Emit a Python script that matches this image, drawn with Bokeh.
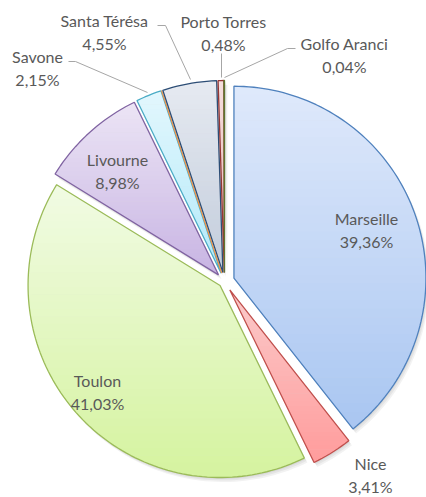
import numpy as np
from bokeh.plotting import figure
from bokeh.models import Range1d, ColumnDataSource
from bokeh.embed import file_html
from bokeh.resources import INLINE
from bokeh.core.properties import value

# ---------------- data ----------------
ports = ["Marseille", "Nice", "Toulon", "Livourne", "Savone", "", "Santa Térésa", "Porto Torres", "Golfo Aranci"]
shares = [39.36, 3.41, 41.03, 8.98, 2.15, 0.0, 4.55, 0.48, 0.04]

# ---------------- styles / layout ----------------
edge_colors = ["#4f81bd", "#c0504d", "#9bbb59", "#8064a2", "#4bacc6", "#f79646", "#2c4d75", "#953735", "#5f7530"]
fill_top = ["#dfe9fb", "#fbcaca", "#f1fbe4", "#ece5f5", "#e3f7fd", "#fde3cc", "#e6eaf1", "#f5dede", "#e6eed6"]
fill_bot = ["#a9c6f1", "#ff9c9c", "#d5f39f", "#c8b4e3", "#b2e9f9", "#fbc79a", "#c2ccdb", "#e6b3b2", "#cddcae"]
explode = [10, 10, 6, 9, 9, 9, 9, 9, 9]
CX, CY, R = 224.0, 281.0, 192.0

label_name_xy = [(366, 218), (370, 463), (97, 380), (117, 159), (37, 56), None, (104, 20), (223, 21), (344, 43)]
label_gap = 23
leaders = {
    4: ([68, 75, 147], [61, 61, 92]),
    6: ([157, 165, 190], [25, 25, 79]),
    7: ([221, 221], [53, 77]),
    8: ([295, 287, 224], [48, 48, 77]),
}

def hex2rgb(h):
    h = h.lstrip("#")
    return np.array([int(h[i:i + 2], 16) for i in (0, 2, 4)], dtype=float)

def rgb2hex(c):
    return "#%02x%02x%02x" % tuple(int(round(v)) for v in c)

def clip_half(poly, y0, keep_above):
    out = []
    n = len(poly)
    for i in range(n):
        a = poly[i]
        b = poly[(i + 1) % n]
        ina = a[1] >= y0 if keep_above else a[1] <= y0
        inb = b[1] >= y0 if keep_above else b[1] <= y0
        if ina:
            out.append(a)
        if ina != inb:
            t = (y0 - a[1]) / (b[1] - a[1])
            out.append((a[0] + t * (b[0] - a[0]), y0))
    return out

p = figure(width=426, height=497, x_range=Range1d(0, 426), y_range=Range1d(497, 0),
           output_backend="svg", toolbar_location=None, min_border=0)
p.axis.visible = False
p.grid.visible = False
p.outline_line_color = None
p.background_fill_color = "white"
p.border_fill_color = "white"

total = sum(shares)
cum = np.cumsum([0] + shares) / total * 360.0

polys = []
for i, s in enumerate(shares):
    a0, a1 = np.radians(cum[i]), np.radians(cum[i + 1])
    mid = (a0 + a1) / 2
    ax = CX + explode[i] * np.sin(mid)
    ay = CY - explode[i] * np.cos(mid)
    n = max(2, int(np.degrees(a1 - a0) / 1.5) + 2)
    th = np.linspace(a0, a1, n)
    pts = [(ax, ay)] + [(ax + R * np.sin(t), ay - R * np.cos(t)) for t in th]
    polys.append(pts)

# shadow
sh_xs, sh_ys = [], []
for pts in polys:
    for d in (1.5, 3.0, 4.5):
        sh_xs.append([x + d * 0.7 for x, y in pts])
        sh_ys.append([y + d for x, y in pts])
p.patches(sh_xs, sh_ys, fill_color="black", fill_alpha=0.05, line_color=None)

# gradient fills
bx, by, bc = [], [], []
NB = 40
for i, pts in enumerate(polys):
    ys = [y for x, y in pts]
    ymin, ymax = min(ys), max(ys)
    if ymax - ymin < 1e-6:
        continue
    ctop, cbot = hex2rgb(fill_top[i]), hex2rgb(fill_bot[i])
    edges = np.linspace(ymin, ymax, NB + 1)
    for k in range(NB):
        y0, y1 = edges[k], edges[k + 1]
        q = clip_half(pts, y0 - 0.3, True)
        if len(q) < 3:
            continue
        q = clip_half(q, y1 + 0.3, False)
        if len(q) < 3:
            continue
        t = (k + 0.5) / NB
        bx.append([x for x, y in q])
        by.append([y for x, y in q])
        bc.append(rgb2hex(ctop * (1 - t) + cbot * t))
p.patches(xs="xs", ys="ys", fill_color="c", line_color=None,
          source=ColumnDataSource(dict(xs=bx, ys=by, c=bc)))

# outlines
p.patches([[x for x, y in pts] for pts in polys], [[y for x, y in pts] for pts in polys],
          fill_alpha=0, line_color=edge_colors, line_width=1.3)

# leader lines
for i, (lx, ly) in leaders.items():
    p.line(lx, ly, line_color="#a6a6a6", line_width=1)

# labels
names, pcts, nx, ny, px, py = [], [], [], [], [], []
for i, name in enumerate(ports):
    if label_name_xy[i] is None:
        continue
    x, y = label_name_xy[i]
    names.append(name)
    pcts.append(f"{shares[i]:.2f}".replace(".", ",") + "%")
    nx.append(x); ny.append(y)
    px.append(x); py.append(y + label_gap)

common = dict(text_font=value("Lato"), text_font_size="16px", text_color="#595959",
              text_align="center", text_baseline="middle")
p.text(x=nx, y=ny, text=names, **common)
p.text(x=px, y=py, text=pcts, **common)

open("out.html", "w").write(file_html(p, INLINE))
